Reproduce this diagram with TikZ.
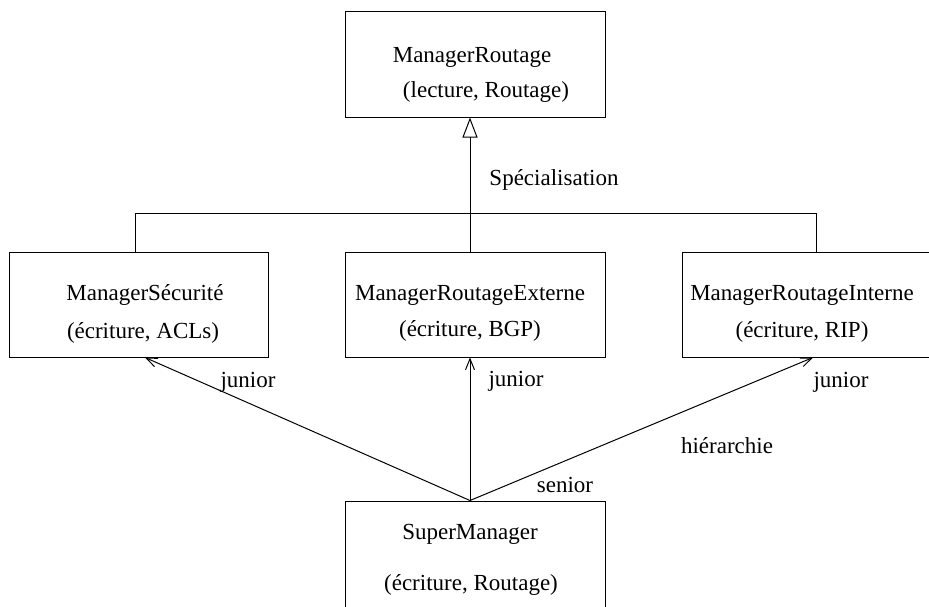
\documentclass[tikz,border=0pt]{standalone}
\usepackage{fontspec}
\setmainfont{Liberation Serif}
\usetikzlibrary{arrows.meta,calc}
\tikzset{
  box/.style={draw, line width=1pt, inner sep=0pt, minimum width=260pt, minimum height=105pt},
  txt/.style={anchor=base, inner sep=0pt, font=\fontsize{23}{28}\selectfont},
  conn/.style={line width=1pt},
  spec/.style={conn, -{Triangle[open, length=20pt, width=15pt]}},
  jun/.style={conn, -{Straight Barb[length=11pt, width=9pt]}}
}
\begin{document}
\begin{tikzpicture}[x=1pt,y=-1pt]
\useasboundingbox (0,0) rectangle (929,606);
\clip (0,0) rectangle (929,606);
\fill[white] (0,0) rectangle (929,606);
% boxes
\node[box, minimum height=106pt] (top) at (475,64) {};
\node[box, minimum width=259pt] (sec) at (138.5,304.5) {};
\node[box] (ext) at (475,304.5) {};
\node[box] (int) at (812,304.5) {};
\node[box, minimum height=130pt] (sup) at (475,566) {};
% texts
\node[txt] (t1) at (472,62) {ManagerRoutage};
\node[txt] (t2) at (486,97) {(lecture, Routage)};
\node[txt] (s1) at (145,300) {ManagerSécurité};
\node[txt] (s2) at (143,338) {(écriture, ACLs)};
\node[txt] (e1) at (470,300) {ManagerRoutageExterne};
\node[txt] (e2) at (470,336) {(écriture, BGP)};
\node[txt] (i1) at (802,300) {ManagerRoutageInterne};
\node[txt] (i2) at (802,337) {(écriture, RIP)};
\node[txt] (u1) at (470,539) {SuperManager};
\node[txt] (u2) at (471,590) {(écriture, Routage)};
\node[txt] (lspec) at (554,185) {Spécialisation};
\node[txt] (lj1) at (248,387) {junior};
\node[txt] (lj2) at (516,386) {junior};
\node[txt] (lj3) at (841,387) {junior};
\node[txt] (lhier) at (727,453) {hiérarchie};
\node[txt] (lsen) at (565,492) {senior};
% specialisation
\coordinate (bus) at (470,213);
\draw[spec] ([xshift=-5pt]ext.north) -- ([xshift=-5pt]top.south);
\draw[conn] ([xshift=-3.5pt]sec.north) |- (bus);
\draw[conn] ([xshift=4pt]int.north) |- (bus);
% hierarchy
\coordinate (hub) at ([xshift=-5pt]sup.north);
\draw[jun] (hub) -- ([xshift=6.5pt]sec.south);
\draw[jun] (hub) -- ([xshift=-5pt]ext.south);
\draw[jun] (hub) -- ([xshift=1pt]int.south);
\end{tikzpicture}
\end{document}
